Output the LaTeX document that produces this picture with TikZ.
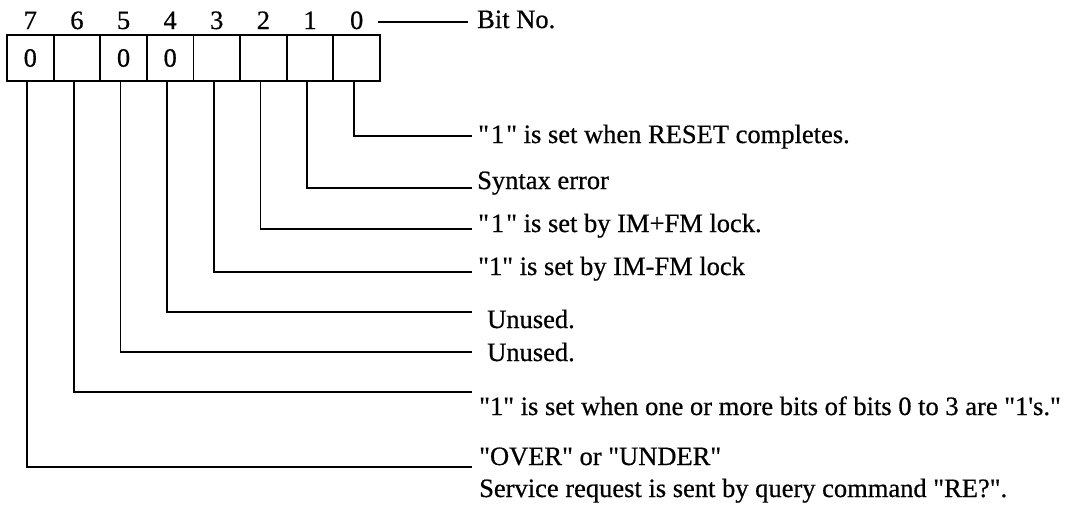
\documentclass[tikz,border=0pt]{standalone}
\usepackage{fontspec}
\setmainfont{Liberation Serif}[Ligatures=TeXOff,FakeBold=0.6]
\begin{document}
\begin{tikzpicture}[x=1pt,y=-1pt,
  every node/.style={font=\fontsize{26.5}{32}\selectfont},
  cell/.style={draw, line width=1.8pt, minimum width=46.625pt, minimum height=46pt, inner sep=0pt, anchor=center},
  bitnum/.style={anchor=base, inner sep=0pt},
  lbl/.style={anchor=base west, inner sep=0pt},
  wire/.style={line width=1.7pt}]
\useasboundingbox (0,0) rectangle (1078,504);
% register cells
\node[cell] (c7) at ({7+46.625*0.5},58) {0};
\node[cell] (c6) at ({7+46.625*1.5},58) {};
\node[cell] (c5) at ({7+46.625*2.5},58) {0};
\node[cell] (c4) at ({7+46.625*3.5},58) {0};
\node[cell] (c3) at ({7+46.625*4.5},58) {};
\node[cell] (c2) at ({7+46.625*5.5},58) {};
\node[cell] (c1) at ({7+46.625*6.5},58) {};
\node[cell] (c0) at ({7+46.625*7.5},58) {};
% bit numbers
\foreach \b in {7,6,5,4,3,2,1,0}
  \node[bitnum] (n\b) at ({7+46.625*(7.5-\b)},29) {\b};
% Bit No.
\coordinate (bnl) at (378,22);
\coordinate (bnr) at (468,22);
\node[lbl] (bitno) at (477,28) {Bit No.};
\draw[wire] (bnl) -- (bnr);
% line ends
\coordinate (e0) at (472,136);
\coordinate (e1) at (472,188);
\coordinate (e2) at (472,229);
\coordinate (e3) at (472,272);
\coordinate (e4) at (472,312);
\coordinate (e5) at (472,352);
\coordinate (e6) at (472,392);
\coordinate (e7) at (472,467);
% labels
\node[lbl] (t0) at (478,143) {"\kern2pt1\kern2pt" is set when RESET completes.};
\node[lbl] (t1) at (477,189) {Syntax error};
\node[lbl] (t2) at (478,232) {"\kern2pt1\kern2pt" is set by IM+FM lock.};
\node[lbl] (t3) at (478,275) {"1" is set by IM-FM lock};
\node[lbl] (t4) at (487,328) {Unused.};
\node[lbl] (t5) at (487,361) {Unused.};
\node[lbl] (t6) at (479,415) {"1" is set when one or more bits of bits 0 to 3 are "1's."};
\node[lbl] (t7) at (479,465) {"OVER" or "UNDER"};
\node[lbl] (t7b) at (479,497) {Service request is sent by query command "RE?".};
% connectors
\foreach \b in {0,...,7}
  \draw[wire] ([xshift=-3pt]c\b.south) |- (e\b);
\end{tikzpicture}
\end{document}
